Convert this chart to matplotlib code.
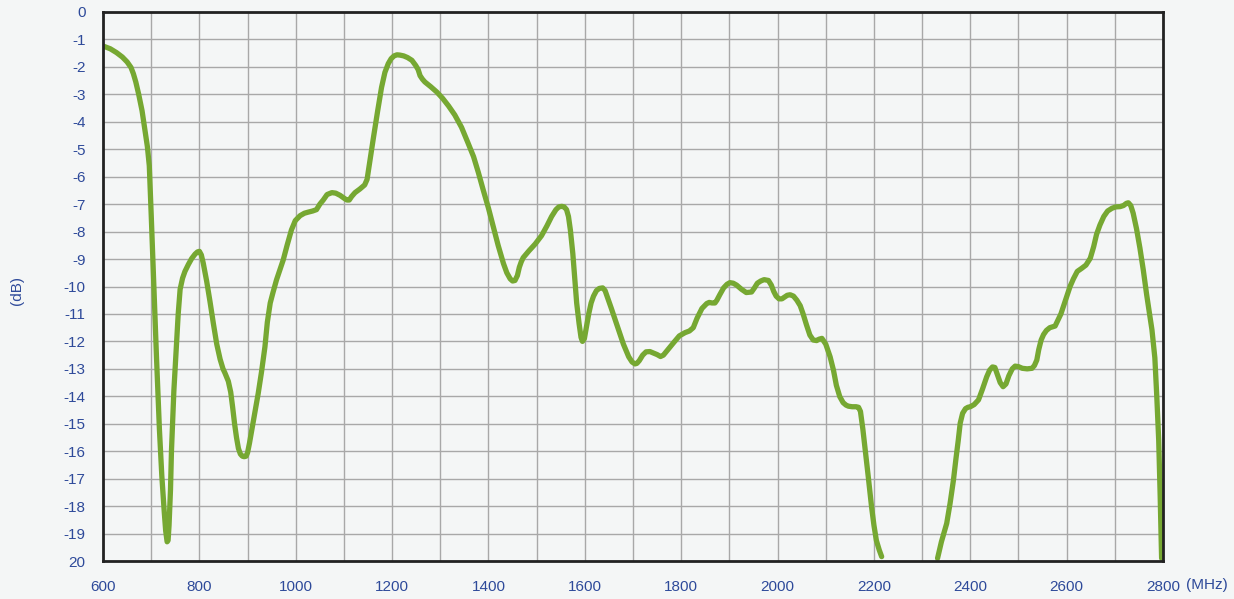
import matplotlib
matplotlib.use("Agg")
import matplotlib.pyplot as plt

# ==============================
# DATA as (MHz, dB) pairs
# ==============================
band_low = [
    (600, -1.24), (615, -1.34), (628, -1.48), (640, -1.64), (650, -1.82), (658, -2.02),
    (663, -2.25), (668, -2.55), (674, -3.0), (681, -3.6), (687, -4.3), (692, -4.9),
    (696, -5.6), (700, -7.4), (705, -9.8), (711, -12.6), (717, -15.2), (722, -16.9),
    (727, -18.2), (730, -18.9), (733, -19.3), (735, -19.25), (737, -18.7), (740, -17.4),
    (742, -16.0), (747, -13.8), (753, -11.9), (756, -11.0), (760, -10.1), (765, -9.7),
    (770, -9.45), (777, -9.2), (784, -8.98), (791, -8.82), (796, -8.74), (800, -8.72),
    (804, -8.85), (808, -9.15), (815, -9.8), (822, -10.55), (829, -11.35), (836, -12.1),
    (843, -12.65), (849, -13.0), (853, -13.15), (860, -13.45), (865, -13.85), (869, -14.4),
    (873, -15.0), (877, -15.5), (881, -15.9), (885, -16.1), (889, -16.18), (893, -16.2),
    (897, -16.18), (900, -16.05), (904, -15.7), (909, -15.2), (915, -14.6), (922, -13.9),
    (929, -13.1), (936, -12.2), (941, -11.3), (947, -10.6), (953, -10.2), (960, -9.76),
    (967, -9.4), (974, -9.03), (982, -8.5), (991, -7.94), (999, -7.6), (1009, -7.42),
    (1018, -7.33), (1026, -7.29), (1035, -7.25), (1043, -7.2), (1050, -7.0), (1057, -6.85),
    (1065, -6.65), (1075, -6.58), (1083, -6.6), (1092, -6.68), (1100, -6.78), (1106, -6.85),
    (1111, -6.85), (1116, -6.72), (1123, -6.58), (1133, -6.45), (1143, -6.3), (1148, -6.1),
    (1154, -5.4), (1161, -4.6), (1170, -3.6), (1178, -2.75), (1185, -2.2), (1192, -1.88),
    (1198, -1.7), (1204, -1.6), (1210, -1.56), (1216, -1.57), (1224, -1.6), (1232, -1.66),
    (1241, -1.76), (1249, -1.95), (1254, -2.1), (1258, -2.32), (1263, -2.45), (1268, -2.55),
    (1280, -2.72), (1293, -2.92), (1305, -3.15), (1317, -3.42), (1330, -3.75), (1344, -4.2),
    (1357, -4.75), (1369, -5.27), (1379, -5.85), (1389, -6.48), (1400, -7.15), (1410, -7.82),
    (1420, -8.5), (1431, -9.16), (1438, -9.5), (1445, -9.72), (1450, -9.8), (1455, -9.78),
    (1460, -9.6), (1464, -9.3), (1468, -9.1), (1472, -8.95), (1484, -8.7), (1497, -8.45),
    (1510, -8.15), (1521, -7.8), (1531, -7.45), (1540, -7.2), (1546, -7.1), (1552, -7.08),
    (1557, -7.1), (1562, -7.2), (1566, -7.45), (1570, -7.95), (1575, -8.8), (1579, -9.7),
    (1583, -10.6), (1588, -11.35), (1592, -11.85), (1595, -12.0), (1599, -11.9),
    (1603, -11.5), (1608, -11.0), (1613, -10.6), (1618, -10.35), (1624, -10.15),
    (1630, -10.07), (1637, -10.05), (1642, -10.15), (1648, -10.45), (1655, -10.8),
    (1663, -11.22), (1671, -11.65), (1680, -12.1), (1691, -12.56), (1698, -12.75),
    (1704, -12.82), (1708, -12.8), (1713, -12.7), (1720, -12.5), (1727, -12.38),
    (1735, -12.37), (1742, -12.42), (1750, -12.48), (1757, -12.55), (1763, -12.5),
    (1770, -12.35), (1777, -12.2), (1784, -12.05), (1796, -11.8), (1808, -11.68),
    (1817, -11.62), (1825, -11.5), (1833, -11.15), (1843, -10.8), (1853, -10.62),
    (1858, -10.58), (1864, -10.6), (1870, -10.6), (1874, -10.5), (1880, -10.3),
    (1888, -10.05), (1895, -9.92), (1901, -9.86), (1908, -9.88), (1915, -9.95),
    (1925, -10.1), (1935, -10.22), (1946, -10.2), (1952, -10.05), (1958, -9.88),
    (1965, -9.8), (1972, -9.75), (1981, -9.78), (1987, -9.95), (1992, -10.18),
    (1997, -10.35), (2003, -10.45), (2009, -10.45), (2015, -10.38), (2020, -10.32),
    (2026, -10.3), (2033, -10.35), (2040, -10.5), (2047, -10.7), (2053, -11.0),
    (2060, -11.4), (2067, -11.77), (2074, -11.95), (2081, -11.97), (2086, -11.92),
    (2092, -11.89), (2100, -12.1), (2109, -12.56), (2116, -13.05), (2122, -13.6),
    (2129, -14.01), (2136, -14.23), (2142, -14.32), (2147, -14.36), (2155, -14.38),
    (2163, -14.38), (2168, -14.4), (2172, -14.55), (2177, -15.2), (2182, -15.96),
    (2188, -16.9), (2195, -18.02), (2200, -18.7), (2205, -19.25), (2211, -19.6),
    (2216, -19.84),
]

band_high = [
    (2332, -19.9), (2340, -19.3), (2351, -18.63), (2358, -17.9), (2365, -17.05),
    (2370, -16.3), (2375, -15.6), (2379, -14.98), (2384, -14.62), (2390, -14.45),
    (2395, -14.4), (2400, -14.38), (2408, -14.3), (2417, -14.13), (2425, -13.75),
    (2434, -13.29), (2440, -13.05), (2446, -12.93), (2451, -12.95), (2456, -13.2),
    (2462, -13.5), (2468, -13.65), (2474, -13.55), (2480, -13.25), (2487, -13.0),
    (2493, -12.9), (2500, -12.92), (2508, -12.98), (2518, -13.0), (2528, -12.98),
    (2533, -12.88), (2538, -12.68), (2542, -12.3), (2547, -11.95), (2552, -11.75),
    (2558, -11.6), (2565, -11.5), (2576, -11.44), (2588, -11.0), (2600, -10.37),
    (2607, -10.0), (2614, -9.72), (2622, -9.45), (2631, -9.34), (2640, -9.22),
    (2649, -8.97), (2656, -8.55), (2662, -8.1), (2669, -7.76), (2677, -7.45),
    (2685, -7.25), (2694, -7.15), (2702, -7.1), (2711, -7.09), (2718, -7.05),
    (2724, -6.97), (2728, -6.95), (2733, -7.05), (2738, -7.33), (2745, -7.9),
    (2752, -8.6), (2759, -9.4), (2766, -10.3), (2772, -11.0), (2777, -11.58),
    (2783, -12.6), (2787, -14.0), (2791, -15.6), (2794, -17.6), (2797, -19.9),
]

freq_low = [p[0] for p in band_low]
db_low = [p[1] for p in band_low]
freq_high = [p[0] for p in band_high]
db_high = [p[1] for p in band_high]

x_labels = [600, 800, 1000, 1200, 1400, 1600, 1800, 2000, 2200, 2400, 2600, 2800]
y_ticks = list(range(0, -21, -1))
y_ticklabels = [str(v) for v in range(0, -20, -1)] + ["20"]

# ==============================
# STYLE
# ==============================
BG = "#f4f6f6"
LINE_COLOR = "#76a832"
TEXT_COLOR = "#2e4a9a"
GRID_COLOR = "#a8a8a8"

plt.rcParams["font.family"] = ["Liberation Sans", "DejaVu Sans"]

fig = plt.figure(figsize=(12.34, 5.99), dpi=100, facecolor=BG)
ax = fig.add_axes([0.0835, 0.0634, 0.859, 0.9166], facecolor=BG)

for fx, fy in [(freq_low, db_low), (freq_high, db_high)]:
    ax.plot(fx, fy, color=LINE_COLOR, linewidth=3.8,
            solid_joinstyle="round", solid_capstyle="round", zorder=3)

ax.set_xlim(600, 2800)
ax.set_ylim(-20, 0)
grid_x = list(range(600, 2801, 100))
ax.set_xticks(grid_x)
ax.set_xticklabels([str(v) if v in x_labels else "" for v in grid_x])
ax.set_yticks(y_ticks)
ax.set_yticklabels(y_ticklabels)

ax.grid(True, color=GRID_COLOR, linewidth=1.0, zorder=1)
ax.tick_params(axis="both", length=0, labelsize=11, labelcolor=TEXT_COLOR)
ax.tick_params(axis="y", pad=12.5)
ax.tick_params(axis="x", pad=13.5)

for side in ax.spines.values():
    side.set_color("#222222")
    side.set_linewidth(2.0)
    side.set_zorder(4)

fig.text(1207 / 1234, 1 - 585 / 599, "(MHz)", color=TEXT_COLOR, fontsize=11,
         ha="center", va="center")
fig.text(17 / 1234, 1 - 290 / 599, "(dB)", color=TEXT_COLOR, fontsize=11,
         ha="center", va="center", rotation=90)

plt.savefig("out.png", dpi=100, facecolor=BG)
